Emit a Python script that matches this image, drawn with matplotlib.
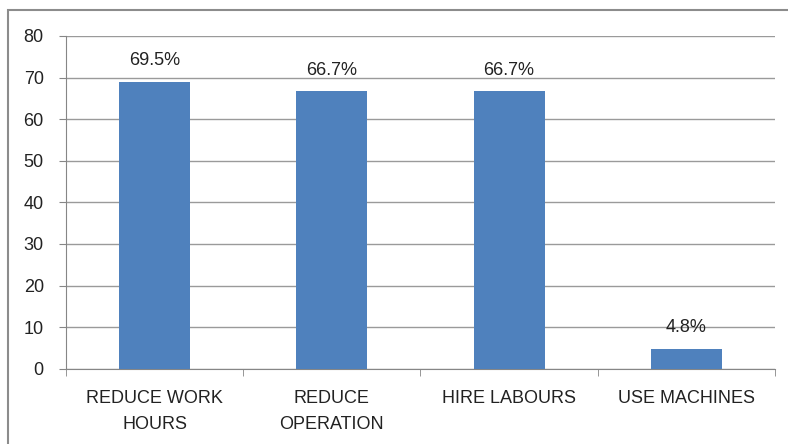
import matplotlib.pyplot as plt
from matplotlib.patches import Rectangle

# chart data
categories = ["REDUCE WORK\nHOURS", "REDUCE\nOPERATION", "HIRE LABOURS", "USE MACHINES"]
bar_values = [69, 66.7, 66.7, 4.8]
bar_labels = ["69.5%", "66.7%", "66.7%", "4.8%"]
y_ticks = [0, 10, 20, 30, 40, 50, 60, 70, 80]

plt.rcParams["font.family"] = ["Liberation Sans", "DejaVu Sans"]

fig = plt.figure(figsize=(7.88, 4.44), dpi=100)
ax = fig.add_axes([66 / 788, 75.3 / 444, (775 - 66) / 788, (408 - 75.3) / 444])

# outer chart border (runs off the right and bottom edges)
fig.patches.append(Rectangle((8 / 788, -0.05), 1.0, (444 - 10) / 444 + 0.05,
                             transform=fig.transFigure, fill=False,
                             edgecolor="#8c8c8c", linewidth=1.5))

x = range(len(categories))
bars = ax.bar(x, bar_values, width=0.4, color="#4f81bd", zorder=3)

for b, lab in zip(bars, bar_labels):
    ax.annotate(lab, (b.get_x() + b.get_width() / 2, b.get_height()),
                xytext=(0, 9), textcoords="offset points",
                ha="center", va="bottom", fontsize=13, color="#222222")

ax.set_xlim(-0.5, len(categories) - 0.5)
ax.set_ylim(0, 80)
ax.set_yticks(y_ticks)
ax.yaxis.grid(True, color="#9a9a9a", linewidth=1.0, zorder=0)

ax.set_xticks(list(x))
ax.set_xticklabels(categories, fontsize=13, linespacing=1.75, color="#222222")
ax.set_xticks([i - 0.5 for i in range(len(categories) + 1)], minor=True)
ax.tick_params(axis="x", which="major", length=0, pad=15)
ax.tick_params(axis="x", which="minor", length=5, color="#868686")
ax.tick_params(axis="y", length=5, color="#868686", labelsize=13,
               labelcolor="#222222", pad=11)

for side in ["top", "right"]:
    ax.spines[side].set_visible(False)
for side in ["left", "bottom"]:
    ax.spines[side].set_color("#868686")

fig.savefig("out.png", dpi=100)
